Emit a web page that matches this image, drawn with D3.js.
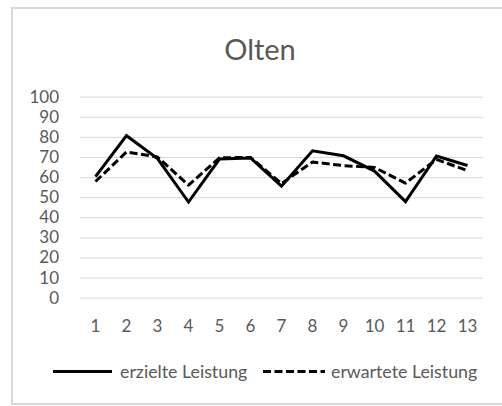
<!DOCTYPE html>
<html><head><meta charset="utf-8">
<script src="https://cdn.jsdelivr.net/npm/d3@7"></script>
<style>body{margin:0;background:#fff}svg{display:block;font-family:Lato,"Open Sans",sans-serif}</style>
</head><body><svg id="c" width="502" height="406"></svg>
<script>
const categories = ["1","2","3","4","5","6","7","8","9","10","11","12","13"];
const erzielte = [60.2, 80.6, 69.2, 47.6, 69, 69.5, 55.5, 73.1, 70.6, 63, 47.8, 70.5, 65.8];
const erwartete = [57.8, 72.5, 70, 56, 69.6, 69.8, 56.8, 67.5, 65.7, 64.8, 57, 68.8, 63.2];
const yTicks = [0,10,20,30,40,50,60,70,80,90,100];
const seriesNames = ["erzielte Leistung", "erwartete Leistung"];

const FONT = "Lato";
const svg = d3.select("#c");
svg.append("rect").attr("x",12).attr("y",8).attr("width",520).attr("height",396)
  .attr("fill","#fff").attr("stroke","#d9d9d9").attr("stroke-width",2);

svg.append("text").attr("x",260).attr("y",60).attr("text-anchor","middle")
  .attr("font-size",29).attr("font-family",FONT).attr("fill","#595959").text("Olten");

const x = d3.scaleBand().domain(categories).range([80,483]);
const y = d3.scaleLinear().domain([0,100]).range([297.7,96.7]);

const yAxis = svg.append("g").attr("transform","translate(80,0)")
  .call(d3.axisLeft(y).tickValues(yTicks).tickSize(-403).tickPadding(8));
yAxis.select(".domain").remove();
yAxis.selectAll("line").attr("stroke","#d9d9d9").attr("stroke-width",1);
yAxis.selectAll("text").attr("fill","#595959").attr("font-size",17)
  .attr("font-family",FONT).attr("x",-21);

const xAxis = svg.append("g").attr("transform","translate(0,297.7)")
  .call(d3.axisBottom(x).tickSize(0).tickPadding(22));
xAxis.select(".domain").remove();
xAxis.selectAll("text").attr("fill","#595959").attr("font-size",17).attr("font-family",FONT);

const line = d3.line().x((d,i)=>x(categories[i])+x.bandwidth()/2).y(d=>y(d));
svg.append("path").datum(erwartete).attr("d",line).attr("fill","none")
  .attr("stroke","#000").attr("stroke-width",3).attr("stroke-dasharray","8,3.5").attr("stroke-linejoin","round");
svg.append("path").datum(erzielte).attr("d",line).attr("fill","none")
  .attr("stroke","#000").attr("stroke-width",3).attr("stroke-linejoin","miter");

// legend
const lg = svg.append("g");
lg.append("line").attr("x1",53).attr("x2",112).attr("y1",371.5).attr("y2",371.5)
  .attr("stroke","#000").attr("stroke-width",3);
lg.append("text").attr("x",120).attr("y",377.5).attr("font-size",17.8).attr("font-family",FONT).attr("fill","#595959").text(seriesNames[0]);
lg.append("line").attr("x1",263).attr("x2",325).attr("y1",371.5).attr("y2",371.5)
  .attr("stroke","#000").attr("stroke-width",3).attr("stroke-dasharray","8,3.5");
lg.append("text").attr("x",331).attr("y",377.5).attr("font-size",17.8).attr("font-family",FONT).attr("fill","#595959").text(seriesNames[1]);
</script></body></html>
